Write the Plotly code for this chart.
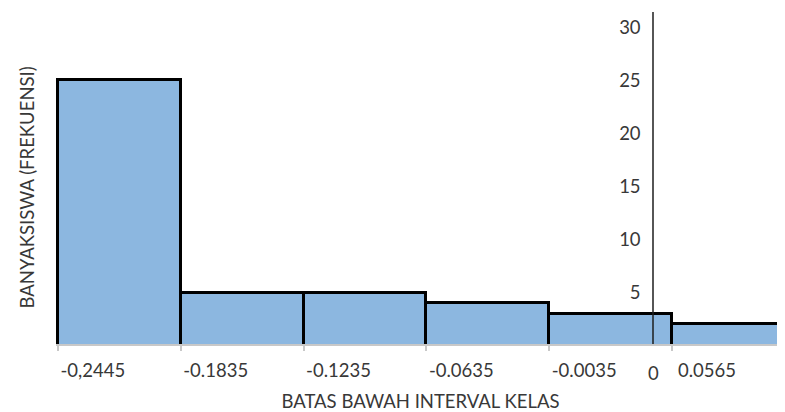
import plotly.graph_objects as go

# Data
lower_bounds = ["-0,2445", "-0.1835", "-0.1235", "-0.0635", "-0.0035", "0.0565"]
frequencies = [25, 5, 5, 4, 3, 2]
y_ticks = [5, 10, 15, 20, 25, 30]
x_title = "BATAS BAWAH INTERVAL KELAS"
y_title = "BANYAKSISWA (FREKUENSI)"

idx = list(range(len(lower_bounds)))
centers = [i + 0.5 for i in idx]

FONT = "Lato"
TXT = "#383838"
FS = 18.5

fig = go.Figure()
fig.add_trace(go.Bar(
    x=centers, y=frequencies, width=1,
    marker=dict(color="#8cb7e0", line=dict(color="black", width=3)),
    showlegend=False,
))

fig.update_layout(
    width=777, height=404,
    margin=dict(l=48, r=0, t=4, b=68),
    paper_bgcolor="white", plot_bgcolor="white",
    font=dict(family=FONT, size=FS, color=TXT),
    bargap=0,
    xaxis=dict(
        range=[-0.015, 5.92],
        tickmode="array", tickvals=idx, ticktext=lower_bounds,
        ticks="outside", ticklen=5, tickwidth=2, tickcolor="#c8c8c8",
        showline=True, linecolor="#c8c8c8", linewidth=2,
        showgrid=False, zeroline=False,
        ticklabelshift=35, ticklabelstandoff=4,
        tickfont=dict(family=FONT, size=FS, color=TXT),
        title=dict(text=x_title, standoff=16, font=dict(family=FONT, size=FS, color=TXT)),
    ),
    yaxis=dict(
        range=[0.15, 31.45],
        anchor="free", position=0.819, side="left",
        tickmode="array", tickvals=y_ticks,
        ticks="", showline=True, linecolor="rgba(30,30,30,0.75)", linewidth=1.5,
        showgrid=False, zeroline=False,
        ticklabelstandoff=8,
        tickfont=dict(family=FONT, size=FS, color=TXT),
    ),
    annotations=[
        dict(text=y_title, textangle=-90, xref="paper", yref="paper",
             x=-0.04, y=0.471, xanchor="center", yanchor="middle",
             showarrow=False, font=dict(family=FONT, size=FS, color=TXT)),
        dict(text="0", xref="paper", yref="paper", x=0.819, y=0,
             yshift=-29, xanchor="center", yanchor="middle",
             showarrow=False, font=dict(family=FONT, size=FS, color=TXT)),
    ],
)

fig.write_html("out.html")
